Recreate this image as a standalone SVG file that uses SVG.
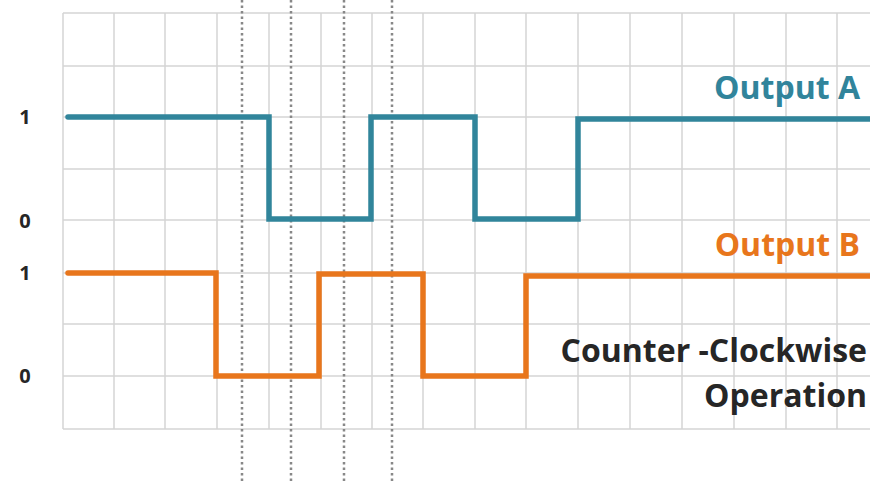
<svg xmlns="http://www.w3.org/2000/svg" width="870" height="484" viewBox="0 0 870 484">
<style>
.grid line{stroke:#d4d4d4;stroke-width:1.5}
.dot{stroke:#888;stroke-width:2.5;stroke-dasharray:2.5 3}
.wave{fill:none;stroke-width:5.5;stroke-linejoin:miter;stroke-linecap:round}
.lvl{font-family:"Open Sans","Liberation Sans",sans-serif;font-weight:bold;font-size:20px;fill:#262626;text-anchor:middle}
.big{font-family:"Open Sans","Liberation Sans",sans-serif;font-weight:bold;font-size:32px}
</style>
<rect width="870" height="484" fill="#fff"/>
<g id="grid" class="grid">
<line x1="63" y1="13" x2="870" y2="13"/>
<line x1="63" y1="66" x2="870" y2="66"/>
<line x1="63" y1="117" x2="870" y2="117"/>
<line x1="63" y1="169" x2="870" y2="169"/>
<line x1="63" y1="220" x2="870" y2="220"/>
<line x1="63" y1="273" x2="870" y2="273"/>
<line x1="63" y1="324" x2="870" y2="324"/>
<line x1="63" y1="376" x2="870" y2="376"/>
<line x1="63" y1="429" x2="870" y2="429"/>
<line x1="63" y1="13" x2="63" y2="429"/>
<line x1="114" y1="13" x2="114" y2="429"/>
<line x1="165" y1="13" x2="165" y2="429"/>
<line x1="217" y1="13" x2="217" y2="429"/>
<line x1="269" y1="13" x2="269" y2="429"/>
<line x1="321" y1="13" x2="321" y2="429"/>
<line x1="372" y1="13" x2="372" y2="429"/>
<line x1="423" y1="13" x2="423" y2="429"/>
<line x1="475" y1="13" x2="475" y2="429"/>
<line x1="526" y1="13" x2="526" y2="429"/>
<line x1="578" y1="13" x2="578" y2="429"/>
<line x1="630" y1="13" x2="630" y2="429"/>
<line x1="682" y1="13" x2="682" y2="429"/>
<line x1="734" y1="13" x2="734" y2="429"/>
<line x1="786" y1="13" x2="786" y2="429"/>
<line x1="837" y1="13" x2="837" y2="429"/>
</g>
<g id="markers">
<line class="dot" x1="242" y1="0" x2="242" y2="484"/>
<line class="dot" x1="291" y1="0" x2="291" y2="484"/>
<line class="dot" x1="344" y1="0" x2="344" y2="484"/>
<line class="dot" x1="392" y1="0" x2="392" y2="484"/>
</g>
<g id="connectors">
<path id="wave-a" class="wave" stroke="#31859b" d="M68 117 H269 V219 H371 V117 H475 V219 H578 V119 H872"/>
<path id="wave-b" class="wave" stroke="#e8761c" d="M68 273 H216 V376 H319 V274 H423 V376 H526 V276 H872"/>
</g>
<g id="labels">
<text class="lvl" x="25" y="124">1</text>
<text class="lvl" x="25" y="228">0</text>
<text class="lvl" x="25" y="280">1</text>
<text class="lvl" x="25" y="383">0</text>
<text id="label-a" class="big" x="860" y="99" text-anchor="end" fill="#31849b">Output A</text>
<text id="label-b" class="big" x="860" y="256" text-anchor="end" fill="#e8761c">Output B</text>
<text id="label-ccw1" class="big" x="867" y="362" text-anchor="end" fill="#262626">Counter -Clockwise</text>
<text id="label-ccw2" class="big" x="867" y="407" text-anchor="end" fill="#262626">Operation</text>
</g>
</svg>
